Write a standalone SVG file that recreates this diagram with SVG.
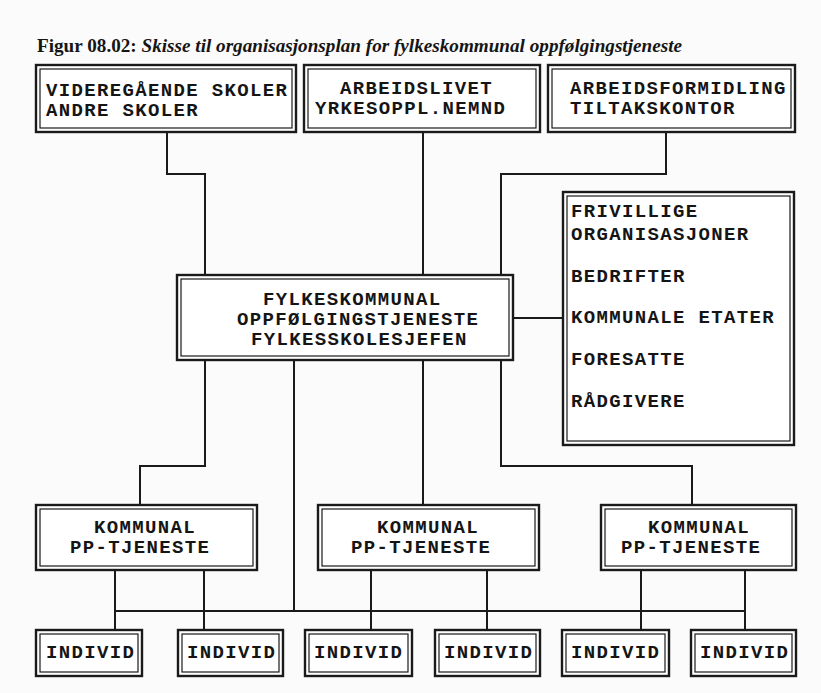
<svg xmlns="http://www.w3.org/2000/svg" width="821" height="693" viewBox="0 0 821 693">
<style>
.bg{fill:#fbfbfb}
.o{fill:#fff;stroke:#1a1a1a;stroke-width:2.4}
.i{fill:none;stroke:#1a1a1a;stroke-width:1.2}
.t{font-family:"Liberation Mono","DejaVu Sans Mono",monospace;font-size:19px;font-weight:bold;letter-spacing:1.35px;fill:#151515}
.c{fill:none;stroke:#1a1a1a;stroke-width:2}
.cap{font-family:"Liberation Serif","Times New Roman",serif;font-size:18px;font-weight:bold;fill:#151515}
</style>
<rect class="bg" x="0" y="0" width="821" height="693"/>
<text class="cap" x="37" y="52" textLength="645" lengthAdjust="spacingAndGlyphs"><tspan>Figur 08.02: </tspan><tspan font-style="italic">Skisse til organisasjonsplan for fylkeskommunal oppfølgingstjeneste</tspan></text>
<g id="connectors">
<path class="c" d="M167 132V174H205V275"/>
<path class="c" d="M423 132V275"/>
<path class="c" d="M666 132V174H501V275"/>
<path class="c" d="M513 318H563"/>
<path class="c" d="M205 360V466H140V505"/>
<path class="c" d="M294 360V611"/>
<path class="c" d="M423 360V505"/>
<path class="c" d="M501 360V466H692V505"/>
<path class="c" d="M115 570V630M204 570V630M371 570V630M487 570V630M641 570V630M745 570V630"/>
<path class="c" d="M115 611H745"/>
</g>
<g id="videregaende">
<rect class="o" x="36" y="65" width="260" height="67"/><rect class="i" x="40" y="69" width="252" height="59"/>
<text class="t" x="46" y="96">VIDEREGÅENDE SKOLER</text><text class="t" x="46" y="116">ANDRE SKOLER</text>
</g>
<g id="arbeidslivet">
<rect class="o" x="304" y="65" width="236" height="67"/><rect class="i" x="308" y="69" width="228" height="59"/>
<text class="t" x="340" y="94">ARBEIDSLIVET</text><text class="t" x="315" y="114">YRKESOPPL.NEMND</text>
</g>
<g id="arbeidsformidling">
<rect class="o" x="548" y="65" width="247" height="67"/><rect class="i" x="552" y="69" width="239" height="59"/>
<text class="t" x="570" y="94">ARBEIDSFORMIDLING</text><text class="t" x="570" y="114">TILTAKSKONTOR</text>
</g>
<g id="fylkeskommunal">
<rect class="o" x="177" y="275" width="336" height="85"/><rect class="i" x="181" y="279" width="328" height="77"/>
<text class="t" x="263" y="305">FYLKESKOMMUNAL</text><text class="t" x="237" y="325">OPPFØLGINGSTJENESTE</text><text class="t" x="251" y="345">FYLKESSKOLESJEFEN</text>
</g>
<g id="samarbeid">
<rect class="o" x="563" y="192" width="231" height="253"/><rect class="i" x="567" y="196" width="223" height="245"/>
<text class="t" x="571" y="217">FRIVILLIGE</text><text class="t" x="571" y="240">ORGANISASJONER</text>
<text class="t" x="571" y="282">BEDRIFTER</text><text class="t" x="571" y="323">KOMMUNALE ETATER</text>
<text class="t" x="571" y="365">FORESATTE</text><text class="t" x="571" y="407">RÅDGIVERE</text>
</g>
<g id="pp1">
<rect class="o" x="36" y="505" width="221" height="65"/><rect class="i" x="40" y="509" width="213" height="57"/>
<text class="t" x="94" y="533">KOMMUNAL</text><text class="t" x="70" y="553">PP-TJENESTE</text>
</g>
<g id="pp2">
<rect class="o" x="318" y="505" width="221" height="65"/><rect class="i" x="322" y="509" width="213" height="57"/>
<text class="t" x="377" y="533">KOMMUNAL</text><text class="t" x="351" y="553">PP-TJENESTE</text>
</g>
<g id="pp3">
<rect class="o" x="601" y="505" width="195" height="65"/><rect class="i" x="605" y="509" width="187" height="57"/>
<text class="t" x="648" y="533">KOMMUNAL</text><text class="t" x="621" y="553">PP-TJENESTE</text>
</g>
<g id="individ1"><rect class="o" x="36" y="630" width="106" height="46"/><rect class="i" x="40" y="634" width="98" height="38"/><text class="t" x="46" y="658">INDIVID</text></g>
<g id="individ2"><rect class="o" x="178" y="630" width="105" height="46"/><rect class="i" x="182" y="634" width="97" height="38"/><text class="t" x="187" y="658">INDIVID</text></g>
<g id="individ3"><rect class="o" x="305" y="630" width="107" height="46"/><rect class="i" x="309" y="634" width="99" height="38"/><text class="t" x="314" y="658">INDIVID</text></g>
<g id="individ4"><rect class="o" x="435" y="630" width="105" height="46"/><rect class="i" x="439" y="634" width="97" height="38"/><text class="t" x="444" y="658">INDIVID</text></g>
<g id="individ5"><rect class="o" x="562" y="630" width="107" height="46"/><rect class="i" x="566" y="634" width="99" height="38"/><text class="t" x="571" y="658">INDIVID</text></g>
<g id="individ6"><rect class="o" x="691" y="630" width="105" height="46"/><rect class="i" x="695" y="634" width="97" height="38"/><text class="t" x="700" y="658">INDIVID</text></g>
</svg>
